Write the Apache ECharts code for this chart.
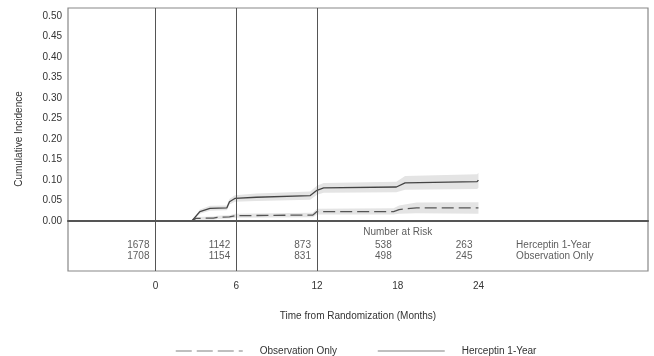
<!DOCTYPE html>
<html>
<head>
<meta charset="utf-8">
<script src="https://cdn.jsdelivr.net/npm/echarts@6/dist/echarts.min.js"></script>
<style>
  html, body { margin: 0; padding: 0; background: #fff; }
  #chart { width: 654px; height: 356px; }
</style>
</head>
<body>
<div id="chart"></div>
<script>
  // axis ticks
  const xTicks = [0, 6, 12, 18, 24];
  const yTicks = [0, 0.05, 0.10, 0.15, 0.20, 0.25, 0.30, 0.35, 0.40, 0.45, 0.50];
  const refLines = [0, 6, 12];

  // number at risk
  const riskMonths = [0, 6, 12, 18, 24];
  const riskHerceptin = [1678, 1142, 873, 538, 263];
  const riskObservation = [1708, 1154, 831, 498, 245];

  // Herceptin 1-Year: cumulative incidence with band
  const hercT  = [0, 2.7, 3.3, 4.05, 5.3, 5.5, 5.9, 7.5, 11.5, 12.0, 12.5, 17.9, 18.55, 23.9, 24];
  const hercV  = [0, 0, 0.023, 0.031, 0.032, 0.047, 0.055, 0.058, 0.062, 0.075, 0.081, 0.083, 0.093, 0.096, 0.100];
  const hercLo = [0, 0, 0.018, 0.025, 0.026, 0.040, 0.047, 0.049, 0.052, 0.064, 0.069, 0.070, 0.076, 0.078, 0.081];
  const hercHi = [0, 0, 0.028, 0.037, 0.038, 0.054, 0.063, 0.067, 0.072, 0.086, 0.093, 0.096, 0.110, 0.114, 0.118];

  // Observation Only
  const obsT  = [0, 2.7, 3.0, 4.3, 4.6, 5.5, 5.9, 11.7, 12.0, 17.7, 18.1, 19.4, 24];
  const obsV  = [0, 0, 0.0065, 0.007, 0.009, 0.010, 0.013, 0.0146, 0.023, 0.023, 0.028, 0.032, 0.032];
  const obsLo = [0, 0, 0.003, 0.003, 0.005, 0.006, 0.008, 0.009, 0.016, 0.016, 0.018, 0.019, 0.018];
  const obsHi = [0, 0, 0.010, 0.011, 0.013, 0.014, 0.018, 0.020, 0.030, 0.031, 0.038, 0.045, 0.046];

  const font = 'Liberation Sans, Arial, sans-serif';
  const txt = '#333';
  const pair = (t, v) => t.map((x, i) => [x, v[i]]);

  // confidence band drawn as one polygon through the axis scales
  function band(name, t, lo, hi) {
    return {
      name: name + ' band', type: 'custom', coordinateSystem: 'cartesian2d',
      xAxisIndex: 0, yAxisIndex: 0, silent: true, z: 1,
      data: t.map((x, i) => [x, lo[i], hi[i]]),
      encode: { x: 0, y: [1, 2] },
      renderItem: function (params, api) {
        if (params.dataIndex !== 0) return;
        const pts = [];
        for (let i = 0; i < t.length; i++) pts.push(api.coord([t[i], hi[i]]));
        for (let i = t.length - 1; i >= 0; i--) pts.push(api.coord([t[i], lo[i]]));
        return { type: 'polygon', shape: { points: pts }, style: { fill: '#e4e4e4' } };
      }
    };
  }

  const vline = {
    silent: true, symbol: 'none', label: { show: false },
    lineStyle: { color: '#555', width: 1, type: 'solid' },
    data: refLines.map(m => ({ xAxis: m }))
  };

  const chart = echarts.init(document.getElementById('chart'));
  chart.setOption({
    animation: false,
    textStyle: { fontFamily: font },
    grid: [
      { left: 68, right: 6, top: 8, height: 213, show: true, borderColor: '#888', borderWidth: 1.2 },
      { left: 68, right: 6, top: 221, height: 50, show: true, borderColor: '#888', borderWidth: 1.2 }
    ],
    xAxis: [{
      type: 'value', gridIndex: 0, min: -6.5, max: 36.6, z: 5,
      axisLine: { show: true, lineStyle: { color: '#555', width: 2 } },
      axisTick: { show: false }, axisLabel: { show: false }, splitLine: { show: false }
    }, {
      type: 'value', gridIndex: 1, min: -6.5, max: 36.6,
      axisLine: { show: false }, axisTick: { show: false }, splitLine: { show: false },
      axisLabel: { customValues: xTicks, color: txt, fontSize: 10, margin: 10, fontFamily: font },
      name: 'Time from Randomization (Months)', nameLocation: 'middle', nameGap: 40,
      nameTextStyle: { color: txt, fontSize: 10, fontFamily: font }
    }],
    yAxis: [{
      type: 'value', gridIndex: 0, min: 0, max: 0.52,
      axisLine: { show: false }, axisTick: { show: false }, splitLine: { show: false },
      axisLabel: {
        customValues: yTicks, color: txt, fontSize: 10, margin: 6, fontFamily: font,
        formatter: v => v.toFixed(2)
      }
    }, {
      type: 'value', gridIndex: 1, min: 0, max: 50, show: false
    }],
    legend: {
      data: [
        { name: 'Observation Only', lineStyle: { type: [16, 5] } },
        { name: 'Herceptin 1-Year' }
      ],
      left: 170, top: 341, itemWidth: 67, itemHeight: 12, itemGap: 40,
      textStyle: { color: txt, fontSize: 10, fontFamily: font, padding: [0, 0, 0, 12] },
      itemStyle: { opacity: 0 },
      lineStyle: { color: '#aaa', width: 1.5 }
    },
    graphic: [{
      type: 'text', x: 19, y: 139, rotation: Math.PI / 2,
      style: {
        text: 'Cumulative Incidence', fill: txt, font: '10px ' + font,
        align: 'center', verticalAlign: 'middle'
      }
    }],
    series: [
      band('Herceptin 1-Year', hercT, hercLo, hercHi),
      band('Observation Only', obsT, obsLo, obsHi),
      {
        name: 'Observation Only', type: 'line', xAxisIndex: 0, yAxisIndex: 0,
        data: pair(obsT, obsV), symbol: 'none', z: 3,
        lineStyle: { color: '#555', width: 1.3, type: [12, 5] },
        itemStyle: { color: '#555' }
      },
      {
        name: 'Herceptin 1-Year', type: 'line', xAxisIndex: 0, yAxisIndex: 0,
        data: pair(hercT, hercV), symbol: 'none', z: 3,
        lineStyle: { color: '#444', width: 1.3 },
        itemStyle: { color: '#444' },
        markLine: vline
      },
      {
        name: 'risk herceptin', type: 'scatter', xAxisIndex: 1, yAxisIndex: 1,
        symbolSize: 0, silent: true,
        data: riskMonths.map((m, i) => [m, 25.3, riskHerceptin[i]]),
        label: { show: true, position: 'left', distance: 6, color: txt, fontSize: 10, fontFamily: font,
                 formatter: p => p.value[2] },
        markLine: vline
      },
      {
        name: 'risk observation', type: 'scatter', xAxisIndex: 1, yAxisIndex: 1,
        symbolSize: 0, silent: true,
        data: riskMonths.map((m, i) => [m, 14.3, riskObservation[i]]),
        label: { show: true, position: 'left', distance: 6, color: txt, fontSize: 10, fontFamily: font,
                 formatter: p => p.value[2] }
      },
      {
        name: 'risk labels', type: 'scatter', xAxisIndex: 1, yAxisIndex: 1,
        symbolSize: 0, silent: true,
        data: [
          { value: [18, 39], label: { position: 'inside', formatter: 'Number at Risk' } },
          { value: [26.8, 25.3], label: { position: 'right', distance: 0, formatter: 'Herceptin 1-Year' } },
          { value: [26.8, 14.3], label: { position: 'right', distance: 0, formatter: 'Observation Only' } }
        ],
        label: { show: true, color: txt, fontSize: 10, fontFamily: font }
      }
    ]
  });
</script>
</body>
</html>
